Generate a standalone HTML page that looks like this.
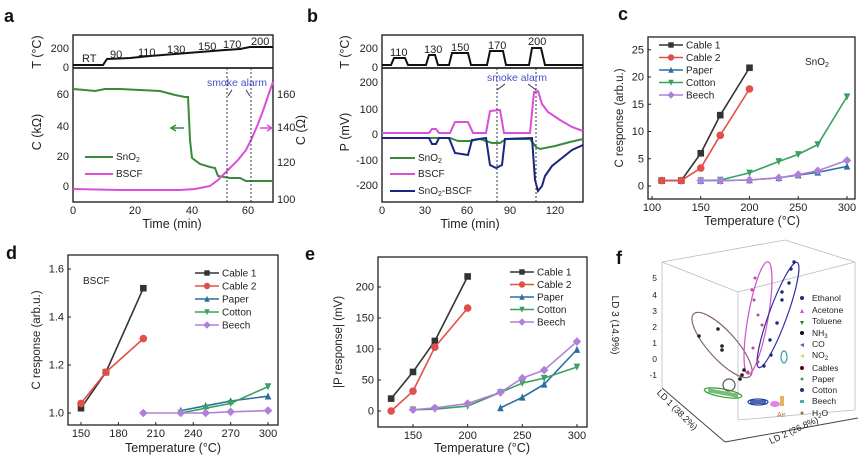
<!DOCTYPE html>
<html><head><meta charset="utf-8"><style>
body{margin:0;background:#fff}
svg{display:block;font-family:"Liberation Sans",sans-serif}
.t{font-size:11px;fill:#222}
.al{font-size:12.5px;fill:#222}
.pl{font-size:18px;font-weight:bold;fill:#111}
.lg{font-size:10px;fill:#222}
</style></head><body>
<svg id="s" width="865" height="461" viewBox="0 0 865 461">
<text class="pl" x="4" y="22">a</text>
<text class="pl" x="307" y="22">b</text>
<text class="pl" x="618" y="20">c</text>
<text class="pl" x="6" y="259">d</text>
<text class="pl" x="305" y="260">e</text>
<text class="pl" x="616" y="264">f</text>

<g fill="none" stroke="#222" stroke-width="1.4">
<rect x="73" y="35" width="200" height="167"/>
<line x1="73" y1="68" x2="273" y2="68" stroke-width="1.8"/>
</g>
<polyline fill="none" stroke="#111" stroke-width="2" points="73,65 103,65 107,59 130,58 150,56 175,54 200,52 225,50 240,49 250,47 273,47"/>
<text class="t" x="82" y="62">RT</text><text class="t" x="110" y="58">90</text><text class="t" x="138" y="56">110</text><text class="t" x="167" y="53">130</text><text class="t" x="198" y="50">150</text><text class="t" x="223" y="48">170</text><text class="t" x="251" y="45">200</text>
<text class="t" x="69" y="52" text-anchor="end">200</text><text class="t" x="69" y="71" text-anchor="end">0</text>
<text class="t" x="69" y="98" text-anchor="end">60</text><text class="t" x="69" y="130" text-anchor="end">40</text><text class="t" x="69" y="160" text-anchor="end">20</text><text class="t" x="69" y="190" text-anchor="end">0</text>
<text class="t" x="277" y="98">160</text><text class="t" x="277" y="131">140</text><text class="t" x="277" y="166">120</text><text class="t" x="277" y="203">100</text>
<text class="t" x="73" y="214" text-anchor="middle">0</text><text class="t" x="135" y="214" text-anchor="middle">20</text><text class="t" x="192" y="214" text-anchor="middle">40</text><text class="t" x="248" y="214" text-anchor="middle">60</text>
<text class="al" x="172" y="228" text-anchor="middle">Time (min)</text>
<text class="al" transform="translate(41,52) rotate(-90)" text-anchor="middle">T (°C)</text>
<text class="al" transform="translate(41,132) rotate(-90)" text-anchor="middle">C (kΩ)</text>
<text class="al" transform="translate(305,130) rotate(-90)" text-anchor="middle">C (Ω)</text>
<polyline fill="none" stroke="#3a8a3a" stroke-width="2" points="73,89 85,90 95,91 105,89 120,89 140,90 160,91 175,95 185,97 188,97 190,140 192,158 200,164 210,167 215,168 218,176 230,178 240,178 246,181 273,181"/>
<polyline fill="none" stroke="#d84fd8" stroke-width="2" points="73,189 120,190 180,190 195,189 210,186 218,180 228,170 238,160 246,150 252,138 258,124 264,108 268,96 273,82"/>
<line x1="227" y1="68" x2="227" y2="202" stroke="#335" stroke-dasharray="2,2"/>
<line x1="251" y1="68" x2="251" y2="202" stroke="#335" stroke-dasharray="2,2"/>
<text x="237" y="86" text-anchor="middle" style="font-size:10.5px;fill:#4a4fc8">smoke alarm</text>
<path d="M232 90 L228 96 M246 90 L250 96" stroke="#335" fill="none"/>
<path d="M184 128 H172 M176 125 L171 128 L176 131" stroke="#3a8a3a" stroke-width="1.5" fill="none"/>
<path d="M260 128 H271 M267 125 L272 128 L267 131" stroke="#d84fd8" stroke-width="1.5" fill="none"/>
<line x1="85" y1="157" x2="113" y2="157" stroke="#3a8a3a" stroke-width="2"/><text class="lg" x="116" y="160">SnO<tspan dy="2" font-size="7">2</tspan></text>
<line x1="85" y1="174" x2="113" y2="174" stroke="#d84fd8" stroke-width="2"/><text class="lg" x="116" y="177">BSCF</text>

<g fill="none" stroke="#222" stroke-width="1.4">
<rect x="382" y="35" width="201" height="167"/>
<line x1="382" y1="68" x2="583" y2="68" stroke-width="1.8"/>
</g>
<polyline fill="none" stroke="#111" stroke-width="2" points="382,65 391,65 394,58 405,58 408,65 426,65 429,55 435,55 438,65 449,65 452,53 468,53 471,65 487,65 490,51 503,51 506,65 529,65 532,48 541,48 545,65 583,65"/>
<text class="t" x="390" y="56">110</text><text class="t" x="424" y="53">130</text><text class="t" x="451" y="51">150</text><text class="t" x="488" y="49">170</text><text class="t" x="528" y="45">200</text>
<text class="t" x="378" y="52" text-anchor="end">200</text><text class="t" x="378" y="71" text-anchor="end">0</text>
<text class="t" x="378" y="86" text-anchor="end">200</text><text class="t" x="378" y="113" text-anchor="end">100</text><text class="t" x="378" y="138" text-anchor="end">0</text><text class="t" x="378" y="164" text-anchor="end">-100</text><text class="t" x="378" y="189" text-anchor="end">-200</text>
<text class="t" x="382" y="214" text-anchor="middle">0</text><text class="t" x="425" y="214" text-anchor="middle">30</text><text class="t" x="467" y="214" text-anchor="middle">60</text><text class="t" x="510" y="214" text-anchor="middle">90</text><text class="t" x="555" y="214" text-anchor="middle">120</text>
<text class="al" x="470" y="228" text-anchor="middle">Time (min)</text>
<text class="al" transform="translate(349,52) rotate(-90)" text-anchor="middle">T (°C)</text>
<text class="al" transform="translate(349,132) rotate(-90)" text-anchor="middle">P (mV)</text>
<polyline fill="none" stroke="#d84fd8" stroke-width="2" points="382,133 429,133 432,129 436,129 439,133 450,133 455,122 468,122 473,133 486,133 490,111 500,110 504,133 530,133 534,92 538,91 542,104 548,112 560,120 572,127 583,131"/>
<polyline fill="none" stroke="#3a8a3a" stroke-width="2" points="382,138 450,138 458,141 470,141 480,139 492,143 500,143 506,139 530,139 536,147 540,149 555,146 570,142 583,139"/>
<polyline fill="none" stroke="#1a2580" stroke-width="2" points="382,138 429,138 432,144 436,144 439,138 449,138 455,153 468,155 472,140 486,138 490,165 496,168 502,165 505,139 532,138 535,180 538,191 542,186 545,176 552,166 562,158 572,150 583,145"/>
<line x1="497" y1="68" x2="497" y2="202" stroke="#335" stroke-dasharray="2,2"/>
<line x1="536" y1="68" x2="536" y2="202" stroke="#335" stroke-dasharray="2,2"/>
<text x="517" y="81" text-anchor="middle" style="font-size:10.5px;fill:#4a4fc8">smoke alarm</text>
<path d="M505 84 L497 90 M528 84 L536 90" stroke="#335" fill="none"/>
<line x1="390" y1="158" x2="415" y2="158" stroke="#3a8a3a" stroke-width="2"/><text class="lg" x="418" y="161">SnO<tspan dy="2" font-size="7">2</tspan></text>
<line x1="390" y1="174" x2="415" y2="174" stroke="#d84fd8" stroke-width="2"/><text class="lg" x="418" y="177">BSCF</text>
<line x1="390" y1="191" x2="415" y2="191" stroke="#1a2580" stroke-width="2"/><text class="lg" x="418" y="194">SnO<tspan dy="2" font-size="7">2</tspan><tspan dy="-2">-BSCF</tspan></text>

<rect x="648" y="37" width="207" height="162" fill="none" stroke="#222" stroke-width="1.3"/>
<rect x="68" y="255" width="210" height="170" fill="none" stroke="#222" stroke-width="1.3"/>
<rect x="378" y="257" width="209" height="170" fill="none" stroke="#222" stroke-width="1.3"/>
<text class="al" x="752" y="225" text-anchor="middle">Temperature (°C)</text>
<text class="al" transform="translate(623,118) rotate(-90)" text-anchor="middle" style="font-size:11.5px">C response (arb.u.)</text>
<text class="lg" x="805" y="65">SnO<tspan dy="2" font-size="7">2</tspan></text>
<text class="al" x="173" y="452" text-anchor="middle">Temperature (°C)</text>
<text class="al" transform="translate(40,340) rotate(-90)" text-anchor="middle" style="font-size:11.5px">C response (arb.u.)</text>
<text class="lg" x="83" y="284">BSCF</text>
<text class="al" x="482" y="452" text-anchor="middle">Temperature (°C)</text>
<text class="al" transform="translate(342,342) rotate(-90)" text-anchor="middle" style="font-size:11.5px">|P response| (mV)</text>
<g id="cde"></g>

<g stroke="#bbb" fill="none" stroke-width="0.8">
<line x1="662" y1="262" x2="662" y2="388"/>
<line x1="662" y1="262" x2="738" y2="292"/>
<line x1="738" y1="292" x2="738" y2="420"/>
<line x1="738" y1="292" x2="855" y2="262"/>
<line x1="662" y1="262" x2="785" y2="240"/>
<line x1="785" y1="240" x2="855" y2="262"/>
<line x1="855" y1="262" x2="855" y2="410"/>
<line x1="738" y1="420" x2="855" y2="410"/>
</g>
<g stroke="#444" fill="none" stroke-width="1">
<line x1="662" y1="388" x2="725" y2="442"/>
<line x1="725" y1="442" x2="858" y2="418"/>
</g>
<g class="t" style="font-size:8.5px">
<text x="657" y="281" text-anchor="end">5</text><text x="657" y="298" text-anchor="end">4</text><text x="657" y="314" text-anchor="end">3</text><text x="657" y="330" text-anchor="end">2</text><text x="657" y="346" text-anchor="end">1</text><text x="657" y="362" text-anchor="end">0</text><text x="657" y="378" text-anchor="end">-1</text>
</g>
<text class="al" transform="translate(612,325) rotate(90)" text-anchor="middle" style="font-size:10px">LD 3 (14.9%)</text>
<text class="al" transform="translate(675,412) rotate(45)" text-anchor="middle" style="font-size:9px">LD 1 (38.2%)</text>
<text class="al" transform="translate(795,433) rotate(-25)" text-anchor="middle" style="font-size:9px">LD 2 (26.8%)</text>
<g fill="none" stroke-width="1.2">
<ellipse cx="722" cy="345" rx="42" ry="14" transform="rotate(48 722 345)" stroke="#8a6070"/>
<ellipse cx="758" cy="318" rx="57" ry="10" transform="rotate(-80 758 318)" stroke="#d050c8"/>
<ellipse cx="778" cy="315" rx="56" ry="9" transform="rotate(-70 778 315)" stroke="#3030a0"/>
<ellipse cx="723" cy="393" rx="19" ry="4" transform="rotate(10 723 393)" stroke="#30a030"/>
<circle cx="729" cy="385" r="6" stroke="#555"/>
<ellipse cx="758" cy="402" rx="10" ry="3" stroke="#2040a0"/>
<ellipse cx="784" cy="357" rx="3" ry="6" stroke="#30a0b0"/>
</g>
<g fill="#222">
<circle cx="699" cy="336" r="1.8"/><circle cx="718" cy="329" r="1.8"/><circle cx="722" cy="346" r="1.8"/><circle cx="722" cy="350" r="1.8"/><circle cx="744" cy="370" r="1.8"/><circle cx="742" cy="375" r="1.8"/><circle cx="740" cy="379" r="1.8"/>
</g>
<g fill="#c040b0">
<circle cx="755" cy="278" r="1.5"/><circle cx="752" cy="290" r="1.5"/><circle cx="754" cy="300" r="1.5"/><circle cx="758" cy="315" r="1.5"/><circle cx="762" cy="325" r="1.5"/><circle cx="753" cy="348" r="1.5"/><circle cx="758" cy="362" r="1.5"/><circle cx="748" cy="372" r="1.5"/>
</g>
<g fill="#202880">
<circle cx="794" cy="262" r="1.7"/><circle cx="791" cy="269" r="1.7"/><circle cx="789" cy="283" r="1.7"/><circle cx="782" cy="292" r="1.7"/><circle cx="782" cy="300" r="1.7"/><circle cx="777" cy="323" r="1.7"/><circle cx="770" cy="340" r="1.7"/><circle cx="771" cy="355" r="1.7"/><circle cx="764" cy="366" r="1.7"/>
</g>
<rect x="708" y="391" width="30" height="4" fill="#40a040" opacity="0.7" transform="rotate(10 723 393)"/>
<rect x="750" y="400" width="16" height="4" fill="#2040a0" opacity="0.8"/>
<ellipse cx="775" cy="404" rx="5" ry="3" fill="#d050e0" opacity="0.7"/>
<rect x="780" y="396" width="4" height="10" fill="#e0a030" opacity="0.8"/>
<text x="777" y="417" style="font-size:7px;fill:#d07030">Air</text>
<g class="lg" style="font-size:8.5px">
<circle cx="802" cy="298" r="2" fill="#202880"/><text x="812" y="301">Ethanol</text>
<path d="M800 313 L802 309 L804 313Z" fill="#d050c8"/><text x="812" y="313">Acetone</text>
<path d="M800 321 L804 321 L802 325Z" fill="#308030"/><text x="812" y="324">Toluene</text>
<circle cx="802" cy="333" r="2" fill="#111"/><text x="812" y="336">NH<tspan dy="2" font-size="6">3</tspan></text>
<path d="M800 345 L804 343 L804 347Z" fill="#6060a0"/><text x="812" y="347">CO</text>
<path d="M800 356 L804 354 L804 358Z" fill="#d8d860"/><text x="812" y="358">NO<tspan dy="2" font-size="6">2</tspan></text>
<circle cx="802" cy="368" r="2" fill="#500010"/><text x="812" y="371">Cables</text>
<circle cx="802" cy="379" r="1.5" fill="#6a8a4a"/><text x="812" y="382">Paper</text>
<circle cx="802" cy="390" r="2" fill="#203870"/><text x="812" y="393">Cotton</text>
<rect x="800" y="400" width="4" height="3" fill="#40b0b0"/><text x="812" y="404">Beech</text>
<circle cx="802" cy="413" r="1.5" fill="#8a7a5a"/><text x="812" y="416">H<tspan dy="2" font-size="6">2</tspan><tspan dy="-2">O</tspan></text>
</g>
</svg>
<script>
(function(){
var NS="http://www.w3.org/2000/svg",g=document.getElementById("cde");
function el(t,a,txt){var e=document.createElementNS(NS,t);for(var k in a)e.setAttribute(k,a[k]);if(txt!=null)e.textContent=txt;g.appendChild(e);return e;}
var col={c1:"#333",c2:"#e0504a",pa:"#2a6fa0",co:"#3aa060",be:"#b080d8"};
function mk(type,x,y,c,s){s=s||3.3;
 if(type=="c1")el("rect",{x:x-s,y:y-s,width:2*s,height:2*s,fill:c});
 else if(type=="c2")el("circle",{cx:x,cy:y,r:s+0.5,fill:c});
 else if(type=="pa")el("path",{d:"M"+(x-s)+" "+(y+s)+"L"+x+" "+(y-s-0.5)+"L"+(x+s)+" "+(y+s)+"Z",fill:c});
 else if(type=="co")el("path",{d:"M"+(x-s)+" "+(y-s)+"L"+x+" "+(y+s+0.5)+"L"+(x+s)+" "+(y-s)+"Z",fill:c});
 else el("path",{d:"M"+x+" "+(y-s-1)+"L"+(x+s+1)+" "+y+"L"+x+" "+(y+s+1)+"L"+(x-s-1)+" "+y+"Z",fill:c});}
function panel(P){
 P.xt.forEach(function(t){var x=P.fx(t);el("line",{x1:x,y1:P.bot,x2:x,y2:P.bot-3,stroke:"#222"});el("text",{x:x,y:P.bot+12,"class":"t","text-anchor":"middle"},t);});
 P.yt.forEach(function(v){var y=P.fy(v);el("line",{x1:P.left,y1:y,x2:P.left+3,y2:y,stroke:"#222"});el("text",{x:P.left-4,y:y+3.5,"class":"t","text-anchor":"end"},P.yf?P.yf(v):v);});
 ["c1","c2","pa","co","be"].forEach(function(k){var d=P.d[k];var pts=d.map(function(p){return P.fx(p[0])+","+P.fy(p[1]);}).join(" ");
  el("polyline",{points:pts,fill:"none",stroke:col[k],"stroke-width":1.6});
  d.forEach(function(p){mk(k,P.fx(p[0]),P.fy(p[1]),col[k]);});});
 var names={c1:"Cable 1",c2:"Cable 2",pa:"Paper",co:"Cotton",be:"Beech"};
 ["c1","c2","pa","co","be"].forEach(function(k,i){var y=P.ly+i*P.ls;el("line",{x1:P.lx,y1:y,x2:P.lx+24,y2:y,stroke:col[k],"stroke-width":1.5});mk(k,P.lx+12,y,col[k],2.7);el("text",{x:P.lx+27,y:y+3.5,"class":"lg"},names[k]);});
}
panel({left:648,bot:199,fx:function(t){return 652+(t-100)*0.975},fy:function(v){return 186-5.45*v},xt:[100,150,200,250,300],yt:[0,5,10,15,20,25],lx:659,ly:45,ls:12.5,
 d:{c1:[[110,1],[130,1],[150,6],[170,13],[200,21.7]],c2:[[110,1],[130,1],[150,3.3],[170,9.3],[200,17.8]],pa:[[150,1],[170,1],[200,1.1],[230,1.5],[250,2],[270,2.5],[300,3.6]],co:[[150,1],[170,1.1],[200,2.4],[230,4.5],[250,5.8],[270,7.6],[300,16.4]],be:[[150,1],[170,1],[200,1.1],[230,1.5],[250,2.1],[270,2.8],[300,4.7]]}});
panel({left:68,bot:425,fx:function(t){return 81+(t-150)*1.247},fy:function(v){return 413-(v-1)*240},xt:[150,180,210,240,270,300],yt:[1.0,1.2,1.4,1.6],yf:function(v){return v.toFixed(1)},lx:195,ly:273,ls:13,
 d:{c1:[[150,1.02],[170,1.17],[200,1.52]],c2:[[150,1.04],[170,1.17],[200,1.31]],pa:[[230,1.01],[250,1.03],[270,1.05],[300,1.07]],co:[[230,1.0],[250,1.02],[270,1.04],[300,1.11]],be:[[200,1.0],[230,1.0],[250,1.0],[270,1.005],[300,1.01]]}});
panel({left:378,bot:427,fx:function(t){return 413+(t-150)*1.093},fy:function(v){return 411-v*0.62},xt:[150,200,250,300],yt:[0,50,100,150,200],lx:510,ly:272,ls:12.5,
 d:{c1:[[130,20],[150,63],[170,113],[200,217]],c2:[[130,0],[150,32],[170,103],[200,166]],pa:[[230,5],[250,22],[270,43],[300,99]],co:[[150,2],[170,3],[200,8],[230,30],[250,45],[270,53],[300,71]],be:[[150,2],[170,5],[200,12],[230,30],[250,53],[270,66],[300,112]]}});
})();
</script>
</body></html>
